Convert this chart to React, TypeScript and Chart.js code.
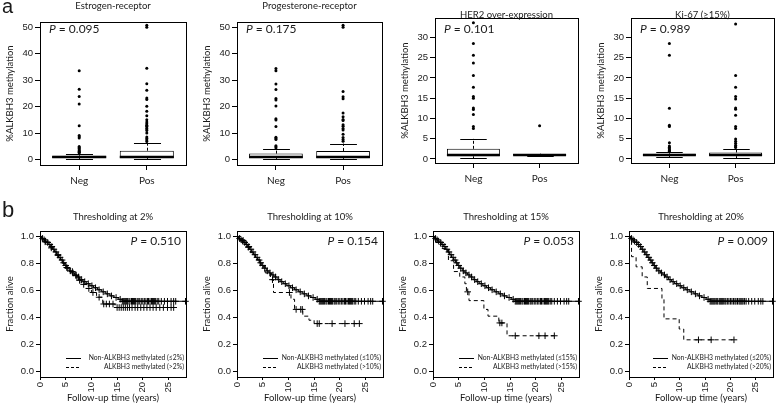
import React, { useEffect, useRef } from "react";
import { Chart, registerables } from "chart.js";

Chart.register(...registerables);

const TICK_FONT = '"Liberation Sans", Arial, sans-serif';
const TEXT_FONT = 'Lato, "Open Sans", sans-serif';
const INK = "#1a1a1a";

// ---------------- (a) box plots ----------------
const boxCategories = ["Neg", "Pos"];
const boxTitles = ["Estrogen-receptor", "Progesterone-receptor", "HER2 over-expression", "Ki-67 (\u226515%)"];
const boxPValues = ["0.095", "0.175", "0.101", "0.989"];
const methTicksWide = [0, 10, 20, 30, 40, 50];
const methTicksNarrow = [0, 5, 10, 15, 20, 25, 30];

// [lower whisker, Q1, median, Q3, upper whisker]
const erNegStats = [0.2, 0.6, 1.0, 1.5, 2.3];
const erPosStats = [0.2, 0.6, 1.0, 3.4, 6.2];
const erNegOutliers = [2.5, 2.8, 3.1, 3.4, 3.8, 4.2, 4.6, 5.0, 8.2, 8.7, 9.1, 12.8, 21.0, 23.9, 26.6, 33.6];
const erPosOutliers = [6.9, 7.4, 8.0, 8.6, 10.1, 11.0, 11.6, 12.0, 12.6, 13.0, 13.6, 14.2, 15.1, 16.6, 18.3, 20.2, 22.7, 23.3, 26.2, 28.7, 34.5, 50.0, 50.8];

const prNegStats = [0.2, 0.6, 1.0, 2.3, 3.9];
const prPosStats = [0.2, 0.6, 1.0, 3.3, 6.1];
const prNegOutliers = [4.4, 4.9, 5.3, 7.6, 8.0, 8.5, 12.5, 15.0, 15.5, 20.3, 22.5, 23.1, 26.5, 28.6, 33.6, 34.4];
const prPosOutliers = [7.0, 7.6, 8.4, 9.6, 11.2, 11.8, 12.6, 13.2, 14.8, 15.2, 16.2, 17.6, 23.0, 23.8, 25.8, 50.0, 50.8];

const her2NegStats = [0.2, 0.65, 1.0, 2.5, 5.0];
const her2PosStats = [0.8, 0.85, 1.0, 1.2, 1.3];
const her2NegOutliers = [7.5, 8.0, 11.0, 12.2, 12.6, 15.0, 15.4, 17.7, 20.6, 23.7, 25.6, 28.5, 33.6];
const her2PosOutliers = [8.2];

const ki67NegStats = [0.5, 0.8, 1.0, 1.3, 1.6];
const ki67PosStats = [0.2, 0.7, 1.0, 1.6, 2.5];
const ki67NegOutliers = [1.9, 2.1, 2.3, 2.6, 2.9, 3.2, 4.0, 8.0, 8.3, 12.5, 25.6, 28.5];
const ki67PosOutliers = [2.8, 3.0, 3.4, 3.9, 4.4, 4.9, 7.5, 8.0, 10.8, 12.3, 12.6, 14.8, 15.4, 17.7, 20.6, 33.3];

// ---------------- (b) Kaplan-Meier ----------------
const kmTitles = ["Thresholding at 2%", "Thresholding at 10%", "Thresholding at 15%", "Thresholding at 20%"];
const kmPValues = ["0.510", "0.154", "0.053", "0.009"];
const kmTimeTicks = [0, 5, 10, 15, 20, 25];
const kmSurvTicks = [0, 0.2, 0.4, 0.6, 0.8, 1.0];
const kmLowLegend = ["Non-ALKBH3 methylated (\u22642%)", "Non-ALKBH3 methylated (\u226410%)", "Non-ALKBH3 methylated (\u226415%)", "Non-ALKBH3 methylated (\u226420%)"];
const kmHighLegend = ["ALKBH3 methylated (>2%)", "ALKBH3 methylated (>10%)", "ALKBH3 methylated (>15%)", "ALKBH3 methylated (>20%)"];

// non-methylated group (solid)
const kmLowTime = [0, 0.3, 0.6, 0.9, 1.2, 1.6, 2.0, 2.4, 2.8, 3.2, 3.6, 4.0, 4.4, 4.8, 5.2, 5.7, 6.2, 6.7, 7.2, 7.8, 8.4, 9.0, 9.7, 10.4, 11.2, 12.0, 12.8, 13.6, 14.4, 15.2, 16.0, 28.3];
const kmLowSurv = [1.0, 0.985, 0.975, 0.965, 0.955, 0.94, 0.925, 0.905, 0.885, 0.865, 0.845, 0.825, 0.805, 0.785, 0.765, 0.745, 0.73, 0.715, 0.70, 0.68, 0.665, 0.65, 0.635, 0.62, 0.605, 0.59, 0.575, 0.56, 0.548, 0.535, 0.52, 0.52];
const kmLowCensor = [0.5, 0.8, 1.1, 1.5, 1.9, 2.3, 2.7, 3.1, 3.5, 3.9, 4.3, 4.6, 5.0, 5.4, 5.9, 6.4, 7.0, 7.5, 8.1, 8.7, 9.4, 10.1, 10.8, 11.5, 12.3, 13.1, 13.9, 14.8, 15.6, 16.0, 16.2, 16.4, 16.6, 16.8, 17.0, 17.3, 17.5, 17.8, 18.0, 18.2, 18.4, 18.6, 18.9, 19.1, 19.4, 19.7, 20.0, 20.3, 20.6, 20.9, 21.1, 21.4, 21.7, 21.9, 22.1, 22.3, 22.5, 22.8, 23.1, 23.6, 24.2, 24.8, 25.5, 26.0, 26.4, 28.3];

// methylated groups (dashed)
const km2Time = [0, 0.4, 0.9, 1.4, 2.0, 2.6, 3.2, 3.8, 4.4, 5.0, 5.7, 6.4, 7.2, 8.0, 9.0, 10.0, 11.0, 12.2, 14.6, 26.0];
const km2Surv = [1.0, 0.98, 0.96, 0.94, 0.915, 0.89, 0.86, 0.83, 0.80, 0.77, 0.74, 0.71, 0.675, 0.645, 0.615, 0.585, 0.55, 0.50, 0.474, 0.474];
const km2Censor = [1.0, 2.2, 3.5, 5.2, 6.3, 7.0, 7.7, 8.5, 9.5, 10.3, 11.5, 12.4, 12.9, 13.5, 14.2, 15.0, 15.4, 15.8, 16.2, 16.6, 17.0, 17.4, 17.9, 18.5, 19.0, 19.6, 20.2, 20.8, 21.4, 22.0, 22.6, 23.3, 24.0, 24.8, 25.5, 26.0];

const km10Time = [0, 0.8, 1.8, 2.6, 3.5, 4.5, 5.5, 6.5, 7.1, 10.5, 11.2, 12.8, 14.0, 15.0, 23.8];
const km10Surv = [1.0, 0.97, 0.92, 0.88, 0.83, 0.78, 0.73, 0.68, 0.585, 0.535, 0.46, 0.41, 0.38, 0.355, 0.355];
const km10Censor = [1.2, 2.2, 6.9, 10.2, 11.5, 12.4, 12.7, 15.6, 16.0, 18.5, 21.0, 22.8, 23.8];

const km15Time = [0, 0.5, 1.5, 3.0, 4.0, 5.2, 6.2, 6.5, 7.0, 9.9, 10.7, 12.8, 14.4, 23.6];
const km15Surv = [1.0, 0.955, 0.91, 0.82, 0.74, 0.70, 0.65, 0.59, 0.525, 0.46, 0.41, 0.36, 0.265, 0.265];
const km15Censor = [6.75, 13.0, 13.4, 16.0, 20.6, 21.8, 23.6];

const km20Time = [0, 0.5, 1.4, 2.6, 3.6, 6.5, 6.9, 9.9, 10.8, 20.7];
const km20Surv = [1.0, 0.85, 0.775, 0.70, 0.615, 0.54, 0.39, 0.315, 0.235, 0.235];
const km20Censor = [13.7, 16.2, 20.7];

// ---------------- layout ----------------
const ROW_H = 207;
const topPanels = [
  { stats: [erNegStats, erPosStats], out: [erNegOutliers, erPosOutliers], ticks: methTicksWide, yMin: -2, yMax: 52, l: 40, r: 186, t: 22, b: 165, titleY: 6 },
  { stats: [prNegStats, prPosStats], out: [prNegOutliers, prPosOutliers], ticks: methTicksWide, yMin: -2, yMax: 52, l: 237, r: 382, t: 22, b: 165, titleY: 6 },
  { stats: [her2NegStats, her2PosStats], out: [her2NegOutliers, her2PosOutliers], ticks: methTicksNarrow, yMin: -1, yMax: 34.8, l: 435, r: 578, t: 18, b: 163, titleY: 14.5 },
  { stats: [ki67NegStats, ki67PosStats], out: [ki67NegOutliers, ki67PosOutliers], ticks: methTicksNarrow, yMin: -1, yMax: 34.8, l: 631, r: 775, t: 18, b: 163, titleY: 14.5 },
];
const bottomPanels = [
  { time: km2Time, surv: km2Surv, censor: km2Censor, l: 40, r: 186 },
  { time: km10Time, surv: km10Surv, censor: km10Censor, l: 237, r: 383 },
  { time: km15Time, surv: km15Surv, censor: km15Censor, l: 433, r: 579 },
  { time: km20Time, surv: km20Surv, censor: km20Censor, l: 629, r: 774 },
];

function stepValueAt(times: number[], surv: number[], t: number) {
  let v = surv[0];
  for (let i = 0; i < times.length; i++) {
    if (times[i] <= t) v = surv[i];
    else break;
  }
  return v;
}

function drawP(ctx: CanvasRenderingContext2D, value: string, x: number, y: number, align: "left" | "right") {
  const size = 12;
  ctx.font = `italic ${size}px ${TEXT_FONT}`;
  const wP = ctx.measureText("P").width;
  const rest = ` = ${value}`;
  ctx.font = `${size}px ${TEXT_FONT}`;
  const wR = ctx.measureText(rest).width;
  const x0 = align === "left" ? x : x - wP - wR;
  ctx.fillStyle = INK;
  ctx.textBaseline = "middle";
  ctx.textAlign = "left";
  ctx.font = `italic ${size}px ${TEXT_FONT}`;
  ctx.fillText("P", x0, y);
  ctx.font = `${size}px ${TEXT_FONT}`;
  ctx.fillText(rest, x0 + wP, y);
}

function framePlugin() {
  return {
    id: "frame",
    afterDatasetsDraw(chart: any) {
      const { ctx, chartArea: a } = chart;
      ctx.save();
      ctx.strokeStyle = "#000";
      ctx.lineWidth = 1;
      ctx.setLineDash([]);
      const x0 = Math.round(a.left) + 0.5;
      const y0 = Math.round(a.top) + 0.5;
      ctx.strokeRect(x0, y0, Math.round(a.right) - Math.round(a.left), Math.round(a.bottom) - Math.round(a.top));
      ctx.restore();
    },
  };
}

function boxExtrasPlugin(stats: number[][], title: string, pval: string, titleY: number) {
  return {
    id: "boxExtras",
    afterDatasetsDraw(chart: any) {
      const { ctx, chartArea: a } = chart;
      const meta = chart.getDatasetMeta(0);
      const ys = chart.scales.y;
      const py = (v: number) => ys.getPixelForValue(v);
      ctx.save();
      ctx.strokeStyle = "#000";
      stats.forEach((s, i) => {
        const bar = meta.data[i];
        if (!bar) return;
        const cx = Math.round(bar.x) + 0.5;
        const half = bar.width / 2;
        const seg = (x1: number, y1: number, x2: number, y2: number) => {
          ctx.beginPath();
          ctx.moveTo(x1, y1);
          ctx.lineTo(x2, y2);
          ctx.stroke();
        };
        ctx.lineWidth = 1;
        ctx.setLineDash([3, 2]);
        seg(cx, py(s[3]), cx, py(s[4]));
        seg(cx, py(s[1]), cx, py(s[0]));
        ctx.setLineDash([]);
        seg(cx - half / 2, Math.round(py(s[4])) + 0.5, cx + half / 2, Math.round(py(s[4])) + 0.5);
        seg(cx - half / 2, Math.round(py(s[0])) + 0.5, cx + half / 2, Math.round(py(s[0])) + 0.5);
        ctx.lineWidth = 2.5;
        seg(bar.x - half, py(s[2]), bar.x + half, py(s[2]));
      });
      ctx.fillStyle = INK;
      ctx.font = `9.5px ${TEXT_FONT}`;
      ctx.textAlign = "center";
      ctx.textBaseline = "middle";
      ctx.fillText(title, (a.left + a.right) / 2, titleY);
      drawP(ctx, pval, a.left + 9, 29.5, "left");
      ctx.restore();
    },
  };
}

function kmExtrasPlugin(title: string, pval: string, legLow: string, legHigh: string) {
  return {
    id: "kmExtras",
    afterDraw(chart: any) {
      const { ctx, chartArea: a } = chart;
      const xs = chart.scales.x;
      ctx.save();
      ctx.fillStyle = INK;
      // vertical time tick labels (read bottom-to-top, ending at the axis)
      ctx.font = `9.5px ${TICK_FONT}`;
      ctx.textAlign = "right";
      ctx.textBaseline = "middle";
      kmTimeTicks.forEach((v) => {
        ctx.save();
        ctx.translate(xs.getPixelForValue(v), a.bottom + 5);
        ctx.rotate(-Math.PI / 2);
        ctx.fillText(String(v), 0, 0);
        ctx.restore();
      });
      ctx.font = `9.5px ${TEXT_FONT}`;
      ctx.textAlign = "center";
      ctx.fillText(title, (a.left + a.right) / 2, 9.7);
      drawP(ctx, pval, a.right - 5, a.top + 10.5, "right");
      // legend
      const rows = [
        { text: legLow, dash: [] as number[], y: a.bottom - 19.5 },
        { text: legHigh, dash: [3, 2], y: a.bottom - 10.5 },
      ];
      ctx.font = `6.8px ${TEXT_FONT}`;
      ctx.textAlign = "right";
      ctx.textBaseline = "middle";
      rows.forEach((row) => {
        ctx.strokeStyle = "#000";
        ctx.lineWidth = 1;
        ctx.setLineDash(row.dash);
        ctx.beginPath();
        ctx.moveTo(a.right - 120, Math.round(row.y) + 0.5);
        ctx.lineTo(a.right - 105, Math.round(row.y) + 0.5);
        ctx.stroke();
        ctx.fillText(row.text, a.right - 2, row.y);
      });
      ctx.restore();
    },
  };
}

const gridStyle = (len: number) => ({
  drawOnChartArea: false,
  drawTicks: true,
  tickLength: len,
  color: "#000",
  lineWidth: 1,
  offset: false,
});

function makeBoxConfig(i: number) {
  const p = topPanels[i];
  const width = p.r - p.l + 40 + Math.min(6, 778 - p.r);
  const pr = width - 40 - (p.r - p.l);
  const outliers: { x: number; y: number }[] = [];
  p.out.forEach((arr, gi) => arr.forEach((v) => outliers.push({ x: gi + 1, y: v })));
  const config: any = {
    type: "bar",
    data: {
      datasets: [
        {
          type: "bar",
          data: p.stats.map((s, gi) => ({ x: gi + 1, y: [s[1], s[3]] })),
          backgroundColor: "#fff",
          borderColor: "#000",
          borderWidth: 1,
          borderSkipped: false,
          categoryPercentage: 1,
          barPercentage: 0.8,
          order: 2,
        },
        {
          type: "scatter",
          data: outliers,
          pointRadius: 1.5,
          pointBackgroundColor: "#000",
          pointBorderWidth: 0,
          order: 1,
        },
      ],
    },
    options: {
      responsive: false,
      animation: false,
      devicePixelRatio: 1,
      events: [],
      layout: { padding: { top: p.t, right: pr, left: 0, bottom: 0 } },
      plugins: { legend: { display: false }, tooltip: { enabled: false }, title: { display: false } },
      scales: {
        x: {
          type: "linear",
          min: 0.42,
          max: 2.58,
          offset: false,
          afterBuildTicks: (s: any) => {
            s.ticks = boxCategories.map((_, k) => ({ value: k + 1 }));
          },
          afterFit: (s: any) => {
            s.height = ROW_H - p.b;
          },
          grid: gridStyle(5),
          border: { display: false },
          ticks: {
            autoSkip: false,
            maxRotation: 0,
            minRotation: 0,
            padding: 5,
            color: INK,
            font: { family: TEXT_FONT, size: 10 },
            callback: (v: number) => boxCategories[Math.round(v) - 1],
          },
        },
        y: {
          type: "linear",
          min: p.yMin,
          max: p.yMax,
          afterBuildTicks: (s: any) => {
            s.ticks = p.ticks.map((v) => ({ value: v }));
          },
          afterFit: (s: any) => {
            s.width = 40;
          },
          grid: gridStyle(5),
          border: { display: false },
          ticks: { padding: 2, color: INK, font: { family: TICK_FONT, size: 9.5 } },
          title: {
            display: true,
            text: "%ALKBH3 methylation",
            color: INK,
            font: { family: TEXT_FONT, size: 9.5 },
            padding: { top: 4, bottom: 0 },
          },
        },
      },
    },
    plugins: [framePlugin(), boxExtrasPlugin(p.stats, boxTitles[i], boxPValues[i], p.titleY)],
  };
  return { config, left: p.l - 40, top: 0, width, height: ROW_H };
}

function makeKmConfig(i: number) {
  const p = bottomPanels[i];
  const width = p.r - p.l + 40 + Math.min(6, 778 - p.r);
  const pr = width - 40 - (p.r - p.l);
  const T = 231 - ROW_H;
  const B = 377 - ROW_H;
  const lowLine = kmLowTime.map((t, k) => ({ x: t, y: kmLowSurv[k] }));
  const highLine = p.time.map((t, k) => ({ x: t, y: p.surv[k] }));
  const lowMarks = kmLowCensor.map((t) => ({ x: t, y: stepValueAt(kmLowTime, kmLowSurv, t) }));
  const highMarks = p.censor.map((t) => ({ x: t, y: stepValueAt(p.time, p.surv, t) }));
  const lineBase = { type: "line", stepped: "before", borderColor: "#000", borderWidth: 1, pointRadius: 0, fill: false, tension: 0 };
  const markBase = { type: "scatter", pointStyle: "cross", pointRadius: 3.3, pointBorderColor: "#000", pointBorderWidth: 1, clip: false };
  const config: any = {
    type: "line",
    data: {
      datasets: [
        { ...lineBase, data: lowLine },
        { ...lineBase, data: highLine, borderDash: [4, 3] },
        { ...markBase, data: lowMarks },
        { ...markBase, data: highMarks },
      ],
    },
    options: {
      responsive: false,
      animation: false,
      devicePixelRatio: 1,
      events: [],
      layout: { padding: { top: T, right: pr, left: 0, bottom: 0 } },
      plugins: { legend: { display: false }, tooltip: { enabled: false }, title: { display: false } },
      scales: {
        x: {
          type: "linear",
          min: 0,
          max: 28.4,
          afterBuildTicks: (s: any) => {
            s.ticks = kmTimeTicks.map((v) => ({ value: v }));
          },
          afterFit: (s: any) => {
            s.height = ROW_H - B;
          },
          grid: gridStyle(3),
          border: { display: false },
          ticks: { display: false },
          title: {
            display: true,
            text: "Follow-up time (years)",
            color: INK,
            font: { family: TEXT_FONT, size: 9.5 },
            padding: { top: 0, bottom: 10 },
          },
        },
        y: {
          type: "linear",
          min: -0.04,
          max: 1.04,
          afterBuildTicks: (s: any) => {
            s.ticks = kmSurvTicks.map((v) => ({ value: v }));
          },
          afterFit: (s: any) => {
            s.width = 40;
          },
          grid: gridStyle(4),
          border: { display: false },
          ticks: {
            padding: 2,
            color: INK,
            font: { family: TICK_FONT, size: 9.5 },
            callback: (v: number) => Number(v).toFixed(1),
          },
          title: {
            display: true,
            text: "Fraction alive",
            color: INK,
            font: { family: TEXT_FONT, size: 9.5 },
            padding: { top: 4, bottom: 0 },
          },
        },
      },
    },
    plugins: [framePlugin(), kmExtrasPlugin(kmTitles[i], kmPValues[i], kmLowLegend[i], kmHighLegend[i])],
  };
  return { config, left: p.l - 40, top: ROW_H, width, height: ROW_H };
}

function ChartCanvas({ spec }: { spec: { config: any; left: number; top: number; width: number; height: number } }) {
  const ref = useRef<HTMLCanvasElement | null>(null);
  useEffect(() => {
    if (!ref.current) return;
    const chart = new Chart(ref.current, spec.config);
    return () => chart.destroy();
  }, []);
  return (
    <canvas
      ref={ref}
      width={spec.width}
      height={spec.height}
      style={{ position: "absolute", left: spec.left, top: spec.top, width: spec.width, height: spec.height }}
    />
  );
}

export default function App() {
  const specs = [0, 1, 2, 3].map(makeBoxConfig).concat([0, 1, 2, 3].map(makeKmConfig));
  return (
    <div style={{ position: "fixed", left: 0, top: 0, width: 778, height: 414, overflow: "hidden", background: "#fff" }}>
      {specs.map((s, k) => (
        <ChartCanvas key={k} spec={s} />
      ))}
      <div style={{ position: "absolute", left: 2, top: -4, fontFamily: TICK_FONT, fontSize: 20, lineHeight: "20px", color: INK }}>a</div>
      <div style={{ position: "absolute", left: 2, top: 199, fontFamily: TICK_FONT, fontSize: 22, lineHeight: "22px", color: INK }}>b</div>
    </div>
  );
}
